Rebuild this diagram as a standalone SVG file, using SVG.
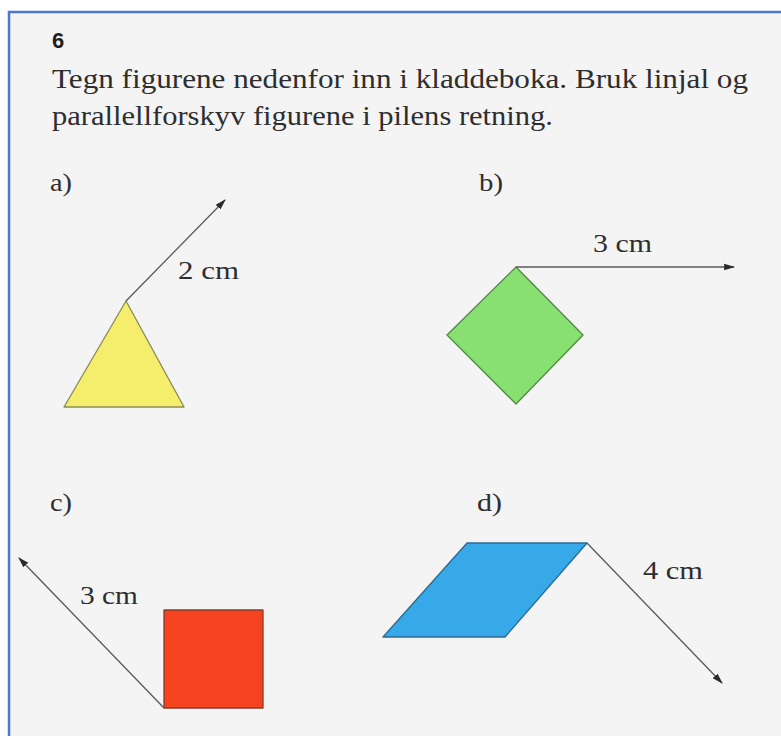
<svg xmlns="http://www.w3.org/2000/svg" width="781" height="736" viewBox="0 0 781 736">
<defs>
<marker id="ah" viewBox="0 0 10 10" refX="9" refY="5" markerWidth="11" markerHeight="11" markerUnits="userSpaceOnUse" orient="auto">
<path d="M0,2 L10,5 L0,8 Z" fill="#2b2b2b"/>
</marker>
</defs>
<style>
.arr{stroke:#5a5a5a;stroke-width:1.3;fill:none;marker-end:url(#ah)}
.shape{stroke-width:1.3;stroke-linejoin:round}
</style>
<rect width="781" height="736" fill="#ffffff"/>
<rect x="9" y="12" width="780" height="730" fill="#f4f4f4" stroke="#4a78d0" stroke-width="2.5"/>
<g font-family="'Liberation Serif','DejaVu Serif','Times New Roman',serif" fill="#2e2e2e">
<text x="52" y="48" font-family="'Liberation Sans',Arial,sans-serif" font-weight="bold" font-size="22" fill="#1e1e1e">6</text>
<text x="52" y="88" font-size="27" textLength="696" lengthAdjust="spacingAndGlyphs">Tegn figurene nedenfor inn i kladdeboka. Bruk linjal og</text>
<text x="52" y="125" font-size="27" textLength="501" lengthAdjust="spacingAndGlyphs">parallellforskyv figurene i pilens retning.</text>

<g id="a">
<text x="50" y="191" font-size="25" textLength="22" lengthAdjust="spacingAndGlyphs">a)</text>
<polygon class="shape" points="126,301 64,407 184,407" fill="#f5ee6c" stroke="#8c8a55"/>
<text x="178" y="279" font-size="25" textLength="61" lengthAdjust="spacingAndGlyphs">2 cm</text>
</g>
<g id="b">
<text x="479" y="191" font-size="25" textLength="24" lengthAdjust="spacingAndGlyphs">b)</text>
<polygon class="shape" points="516,267 447,335 516,404 583,335" fill="#88e070" stroke="#4f8a45"/>
<text x="593" y="252" font-size="25" textLength="59" lengthAdjust="spacingAndGlyphs">3 cm</text>
</g>
<g id="c">
<text x="50" y="511" font-size="25" textLength="22" lengthAdjust="spacingAndGlyphs">c)</text>
<rect class="shape" x="164" y="610" width="99" height="98" fill="#f5431f" stroke="#8a3a2a"/>
<text x="80" y="604" font-size="25" textLength="58" lengthAdjust="spacingAndGlyphs">3 cm</text>
</g>
<g id="d">
<text x="477" y="511" font-size="25" textLength="25" lengthAdjust="spacingAndGlyphs">d)</text>
<polygon class="shape" points="467,543 587,543 505,637 383,637" fill="#37a9e8" stroke="#2d6a90"/>
<text x="643" y="579" font-size="25" textLength="60" lengthAdjust="spacingAndGlyphs">4 cm</text>
</g>
</g>
<g id="connectors">
<line class="arr" x1="126" y1="301" x2="225" y2="200"/>
<line class="arr" x1="516" y1="267" x2="734" y2="267"/>
<line class="arr" x1="164" y1="708" x2="19" y2="558"/>
<line class="arr" x1="587" y1="543" x2="722" y2="683"/>
</g>
</svg>
